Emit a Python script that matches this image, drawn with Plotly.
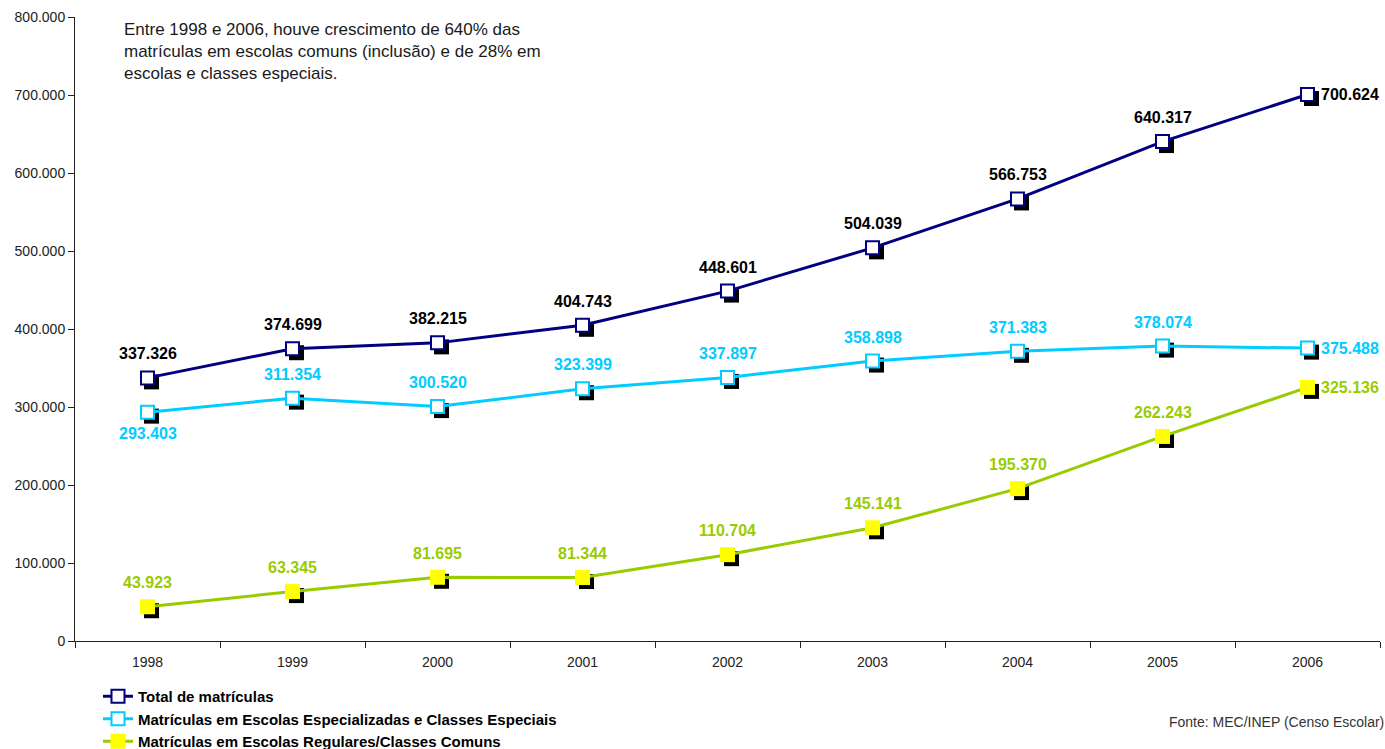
import plotly.graph_objects as go

years = ["1998", "1999", "2000", "2001", "2002", "2003", "2004", "2005", "2006"]
total = [337326, 374699, 382215, 404743, 448601, 504039, 566753, 640317, 700624]
especiais = [293403, 311354, 300520, 323399, 337897, 358898, 371383, 378074, 375488]
regulares = [43923, 63345, 81695, 81344, 110704, 145141, 195370, 262243, 325136]
y_ticks = [0, 100000, 200000, 300000, 400000, 500000, 600000, 700000, 800000]

names = ["Total de matrículas",
         "Matrículas em Escolas Especializadas e Classes Especiais",
         "Matrículas em Escolas Regulares/Classes Comuns"]
line_colors = ["#000080", "#00CCFF", "#99CC00"]
fill_colors = ["white", "white", "#FFFF00"]
label_colors = ["#000000", "#00CCFF", "#99CC00"]
series = [total, especiais, regulares]

FONT = "Liberation Sans, Arial, sans-serif"
W, H = 1385, 749
ml, mr, mt, mb = 75, 5, 17, 108
pw = W - ml - mr
ph = H - mt - mb
ymax = 800000
dx = 4 * 9 / pw
dy = 4 * ymax / ph


def px_x(px):
    return (px - ml) / pw


def px_y(py):
    return 1 - (py - mt) / ph


fig = go.Figure()

# shadows (drawn underneath, on shifted axes)
for s in series:
    fig.add_trace(go.Scatter(x=years, y=s, mode="markers", xaxis="x", yaxis="y",
                             marker=dict(symbol="square", size=15, color="black"),
                             showlegend=False, hoverinfo="skip"))

for name, s, lc, fc in zip(names, series, line_colors, fill_colors):
    fig.add_trace(go.Scatter(x=years, y=s, mode="lines+markers", name=name,
                             xaxis="x2", yaxis="y2",
                             line=dict(color=lc, width=3),
                             marker=dict(symbol="square", size=13 if fc == "white" else 15,
                                         color=fc,
                                         line=dict(color=lc, width=2 if fc == "white" else 0))))

annotations = []
for si, (s, col) in enumerate(zip(series, label_colors)):
    for i, v in enumerate(s):
        txt = f"{v:,}".replace(",", ".")
        if i == len(s) - 1:
            annotations.append(dict(x=i, y=v, xref="x2", yref="y2", text=txt, showarrow=False,
                                    xanchor="left", yanchor="middle", xshift=11,
                                    font=dict(family=FONT, size=16, color=col, weight="bold")))
        else:
            down = (si == 1 and i == 0)
            annotations.append(dict(x=i, y=v, xref="x2", yref="y2", text=txt, showarrow=False,
                                    xanchor="center", yanchor="middle",
                                    yshift=-21 if down else 24,
                                    font=dict(family=FONT, size=16, color=col, weight="bold")))

annotations.append(dict(x=px_x(122), y=px_y(18), xref="paper", yref="paper", showarrow=False,
                        text="Entre 1998 e 2006, houve crescimento de 640% das<br>"
                             "matrículas em escolas comuns (inclusão) e de 28% em<br>"
                             "escolas e classes especiais.",
                        align="left", xanchor="left", yanchor="top",
                        font=dict(family=FONT, size=17, color="#1a1a1a")))

annotations.append(dict(x=px_x(1386), y=px_y(722), xref="paper", yref="paper", showarrow=False,
                        text="Fonte: MEC/INEP (Censo Escolar)", xanchor="right", yanchor="middle",
                        font=dict(family=FONT, size=14, color="#333333")))

fig.update_layout(
    width=W, height=H,
    margin=dict(l=ml, r=mr, t=mt, b=mb, autoexpand=False),
    paper_bgcolor="white", plot_bgcolor="white",
    separators=",.",
    showlegend=True,
    legend=dict(x=px_x(98), y=px_y(680), xanchor="left", yanchor="top",
                font=dict(family=FONT, size=15, color="black", weight="bold"),
                bgcolor="rgba(0,0,0,0)", tracegroupgap=0, itemwidth=30,
                borderwidth=0),
    xaxis=dict(type="category", range=[-0.5 - dx, 8.5 - dx], visible=False),
    yaxis=dict(range=[dy, ymax + dy], visible=False),
    xaxis2=dict(type="category", overlaying="x", range=[-0.5, 8.5], anchor="y2",
                tickson="boundaries", ticks="outside", ticklen=6, tickcolor="#222",
                showline=True, linecolor="#222", linewidth=1, showgrid=False,
                ticklabelstandoff=8,
                tickfont=dict(family=FONT, size=14, color="#222")),
    yaxis2=dict(overlaying="y", range=[0, ymax], anchor="x2", side="left",
                tickvals=y_ticks, tickformat=",d", ticks="outside", ticklen=6, tickcolor="#222",
                showline=True, linecolor="#222", linewidth=1, showgrid=False, zeroline=False,
                tickfont=dict(family=FONT, size=14, color="#222")),
    annotations=annotations,
)

fig.write_html("out.html",
               config={"displayModeBar": False},
               post_script="document.body.style.margin='0';"
                           "document.body.style.overflow='hidden';"
                           "document.documentElement.style.overflow='hidden';")
